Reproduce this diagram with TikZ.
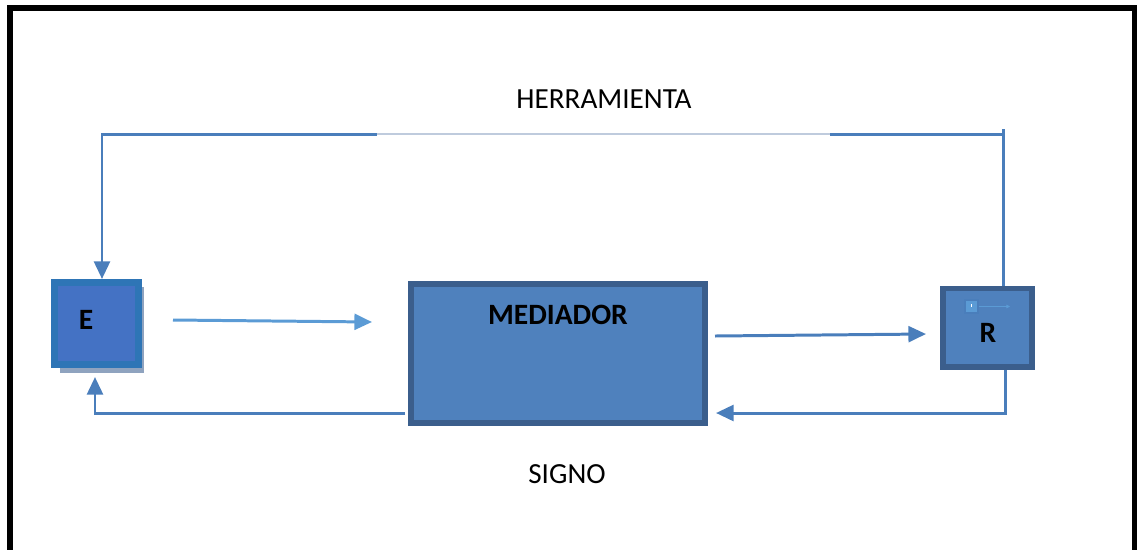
\documentclass[tikz,border=0pt]{standalone}
\usepackage{fontspec}
\setmainfont{Carlito}
\usetikzlibrary{arrows.meta}

\definecolor{lineblue}{HTML}{4A7EBB}
\definecolor{lightblue}{HTML}{5B9BD5}
\definecolor{paleline}{HTML}{BFCBDD}
\definecolor{eborder}{HTML}{2E75B6}
\definecolor{efill}{HTML}{4472C4}
\definecolor{boxborder}{HTML}{3B5E8C}
\definecolor{boxfill}{HTML}{4F81BD}
\definecolor{shadowgray}{HTML}{8FA3BF}

\begin{document}
\begin{tikzpicture}[x=0.02cm, y=-0.02cm,
    flow/.style={draw=lineblue, line width=1.7pt},
    tip/.style={-{Triangle[length=10pt, width=9pt]}},
    ebox/.style={draw=eborder, fill=efill, line width=4pt, minimum width=1.68cm, minimum height=1.64cm, inner sep=0pt},
    bluebox/.style={draw=boxborder, fill=boxfill, line width=3.2pt, inner sep=0pt},
    lbl/.style={font=\fontsize{16.8}{20}\selectfont\bfseries, text=black},
    caption/.style={font=\fontsize{16.6}{19}\selectfont, text=black}]
    \useasboundingbox (0,0) rectangle (1137,549);

    % Frame
    \draw[line width=3pt, line cap=rect] (10,560) -- (10,8) -- (1134.5,8) -- (1134.5,560);

    % Boxes
    \fill[shadowgray] (60,287) rectangle (144,373);
    \node[ebox] (E) at (96.5,323.5) {};
    \node[lbl] (Etxt) at (86,320) {E};
    \node[bluebox, minimum width=5.88cm, minimum height=2.78cm] (Med) at (558,353.5) {};
    \node[lbl] (Medtxt) at (558,315) {MEDIADOR};
    \node[bluebox, minimum width=1.78cm, minimum height=1.57cm] (R) at (987.5,327.7) {};
    \node[lbl] (Rtxt) at (988,333) {R};

    % Small mark inside R
    \node[draw=lineblue, fill=lightblue, line width=0.6pt, minimum size=0.26cm, inner sep=0pt] (mark) at (971.5,306.5) {};
    \fill[white] (970.5,304) rectangle (972,307);
    \draw[lightblue, line width=0.4pt, -{Triangle[length=2pt, width=2pt]}] (mark.east) -- (1010,306.5);

    % Coordinates of the connectors
    \coordinate (tl) at (102,134);
    \coordinate (tr) at (1003,134);
    \coordinate (gapL) at (377,134);
    \coordinate (gapR) at (830,134);
    \coordinate (top) at (1003,129);
    \coordinate (bl) at (95,413);
    \coordinate (br) at (1005,413);
    \coordinate (mleft) at (405,413);
    \coordinate (mright) at (716,413);
    \coordinate (eup) at (95,377);
    \coordinate (a1) at (173,320);
    \coordinate (a2) at (372,322);
    \coordinate (b1) at (715,336);
    \coordinate (b2) at (926,334);

    % Herramienta path
    \draw[flow, tip] (gapL) -- (tl) -- (E.north -| tl);
    \draw[paleline, line width=1pt] (gapL) -- (gapR);
    \draw[flow] (gapR) -- (tr);
    \draw[flow] (R.north -| top) -- (top);

    % Signo path
    \draw[flow, tip] (R.south -| br) -- (br) -- (mright);
    \draw[flow, tip] (mleft) -- (bl) -- (eup);

    % Forward arrows
    \draw[draw=lightblue, line width=1.7pt, tip] (a1) -- (a2);
    \draw[flow, tip] (b1) -- (b2);

    % Labels
    \node[caption] (herr) at (604,99) {HERRAMIENTA};
    \node[caption] (signo) at (567,474) {SIGNO};
\end{tikzpicture}
\end{document}
